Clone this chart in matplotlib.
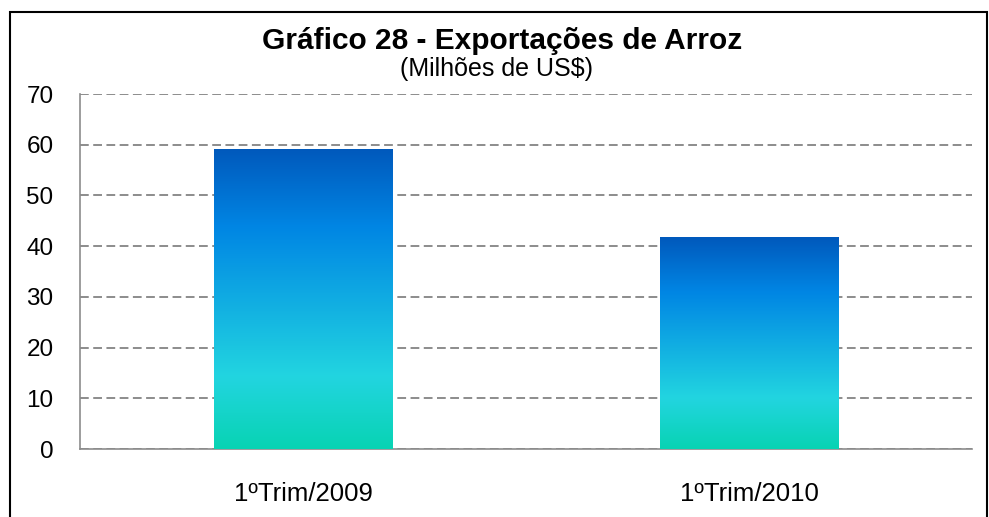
import numpy as np
import matplotlib.pyplot as plt
from matplotlib.colors import LinearSegmentedColormap
from matplotlib.patches import Rectangle

plt.rcParams['font.family'] = ['Liberation Sans', 'DejaVu Sans']

# Data
categories = ["1ºTrim/2009", "1ºTrim/2010"]
values = [59.0, 41.8]

W, H = 989, 517
fig = plt.figure(figsize=(W / 100, H / 100), dpi=100)
ax = fig.add_axes([80 / W, (H - 449) / H, 892 / W, 355 / H])

# vertical gradient like the original
cmap = LinearSegmentedColormap.from_list(
    "grad", [(0.0, "#08D3B3"), (0.24, "#22D5E0"), (0.74, "#0086E4"), (1.0, "#0059BC")])
grad = np.linspace(0, 1, 256).reshape(-1, 1)

x = np.arange(len(categories))
bars = ax.bar(x, values, width=0.4, color="none", zorder=3)
for b in bars:
    x0, w, h = b.get_x(), b.get_width(), b.get_height()
    ax.imshow(grad, cmap=cmap, origin="lower", aspect="auto",
              extent=(x0, x0 + w, 0, h), zorder=3)

ax.set_xlim(-0.5, 1.5)
ax.set_ylim(0, 70)
ax.set_yticks(range(0, 71, 10))
ax.set_xticks(x)
ax.set_xticklabels(categories)
ax.tick_params(axis="x", length=0, pad=24, labelsize=18.5)
ax.tick_params(axis="y", length=0, labelsize=17.5, pad=19)
ax.grid(axis="y", linestyle=(0, (4.5, 2.3)), color="#8c8c8c", linewidth=1.4, zorder=0)
for s in ["top", "right"]:
    ax.spines[s].set_visible(False)
for s in ["left", "bottom"]:
    ax.spines[s].set_color("#8c8c8c")
    ax.spines[s].set_linewidth(1.2)

fig.text(502 / W, 1 - 41 / H, "Gráfico 28 - Exportações de Arroz",
         ha="center", va="center", fontsize=21.5, fontweight="bold")
fig.text(497 / W, 1 - 69 / H, "(Milhões de US$)", ha="center", va="center", fontsize=18)

fig.patches.append(Rectangle((10 / W, -0.01), 977 / W, 1 - 12 / H + 0.01,
                             transform=fig.transFigure, fill=False,
                             edgecolor="black", linewidth=1.5))

plt.savefig("out.png", dpi=100)
